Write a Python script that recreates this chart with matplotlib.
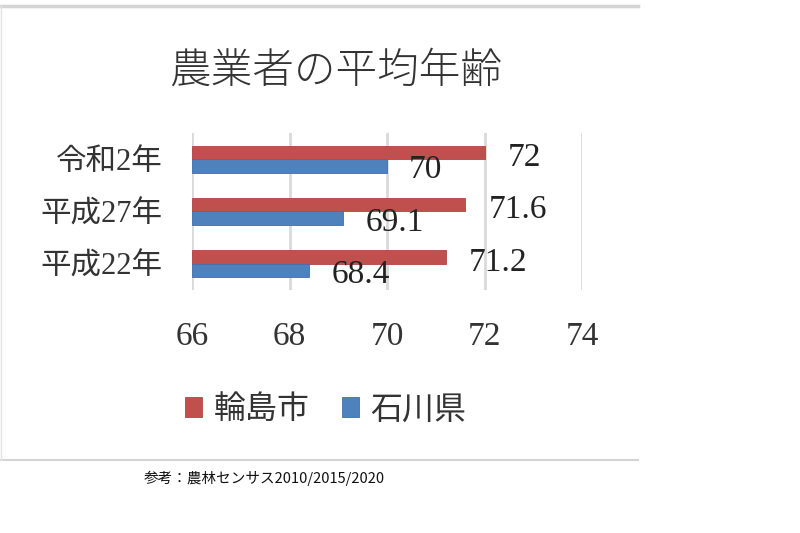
import matplotlib
matplotlib.use("Agg")
import matplotlib.pyplot as plt
from matplotlib.lines import Line2D
import numpy as np

plt.rcParams['font.family'] = ['Liberation Serif', 'Noto Sans CJK JP']

categories = ['平成22年', '平成27年', '令和2年']
wajima = [71.2, 71.6, 72.0]
ishikawa = [68.4, 69.1, 70.0]
series_names = ['輪島市', '石川県']
xticks = [66, 68, 70, 72, 74]

red = '#C0504D'
blue = '#4F81BD'

fig = plt.figure(figsize=(8, 5.33), dpi=100)
ax = fig.add_axes([0.24, 0.456, 0.4875, 0.2945])

y = np.arange(len(categories))
h = 0.26
base = 66
ax.barh(y + h / 2, np.array(wajima) - base, left=base, height=h, color=red,
        edgecolor='#b04542', linewidth=0.6, label=series_names[0], zorder=3)
ax.barh(y - h / 2, np.array(ishikawa) - base, left=base, height=h, color=blue,
        edgecolor='#3f70ad', linewidth=0.6, label=series_names[1], zorder=3)

for yi, v in zip(y, wajima):
    ax.annotate(f"{v:g}", (v, yi + h / 2), xytext=(17, -4), textcoords='offset points',
                ha='left', va='center', fontsize=24, color='#222222')
for yi, v in zip(y, ishikawa):
    ax.annotate(f"{v:g}", (v, yi - h / 2), xytext=(16, -3), textcoords='offset points',
                ha='left', va='center', fontsize=24, color='#222222')

ax.set_xlim(66, 74)
ax.set_ylim(-0.5, 2.5)
ax.set_xticks(xticks)
ax.set_xticklabels([str(t) for t in xticks], fontsize=24, color='#333333')
ax.set_yticks(y)
ax.set_yticklabels(categories, fontsize=22, color='#333333')
ax.tick_params(axis='both', length=0)
ax.tick_params(axis='x', pad=23)
ax.tick_params(axis='y', pad=21)
ax.grid(axis='x', color='#d9d9d9', linewidth=2, zorder=0)
for s in ax.spines.values():
    s.set_visible(False)

fig.text(0.42, 0.867, '農業者の平均年齢', ha='center', va='center', fontsize=30,
         color='#333333', family=['Noto Sans CJK JP'], fontweight='light')

leg = fig.legend(loc='center', bbox_to_anchor=(0.407, 0.232), ncol=2, frameon=False,
                 prop={'family': ['Noto Sans CJK JP'], 'size': 23},
                 handlelength=0.55, handleheight=0.55, handletextpad=0.35, columnspacing=1.0)
for t in leg.get_texts():
    t.set_color('#333333')

fig.text(0.18, 0.103, '参考：農林センサス2010/2015/2020', ha='left', va='center',
         fontsize=10.5, family=['Noto Sans CJK JP'], color='#111111')

# chart frame
fig.add_artist(Line2D([0, 0.797], [0.988, 0.988], color='#d4d4d4', linewidth=2.5))
fig.add_artist(Line2D([0, 0.797], [0.137, 0.137], color='#d4d4d4', linewidth=1.5))
fig.add_artist(Line2D([0.001, 0.001], [0.137, 0.988], color='#e4e4e4', linewidth=1.0))

fig.savefig('out.png', dpi=100)
